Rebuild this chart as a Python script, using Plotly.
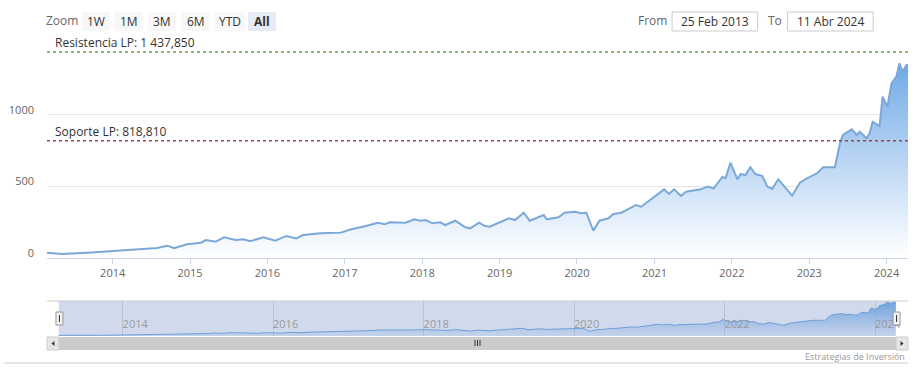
import plotly.graph_objects as go

# ---------------- data ----------------
dates = [
    "2013-02-25", "2013-05-07", "2013-09-05", "2013-12-27", "2014-04-15", "2014-07-30",
    "2014-09-15", "2014-10-18", "2014-12-18", "2015-02-22", "2015-03-17", "2015-05-02",
    "2015-06-10", "2015-08-05", "2015-09-10", "2015-10-12", "2015-12-13", "2016-02-08",
    "2016-03-30", "2016-05-16", "2016-06-18", "2016-09-06", "2016-12-13", "2017-01-30",
    "2017-03-27", "2017-06-06", "2017-07-08", "2017-07-31", "2017-10-14", "2017-11-25",
    "2017-12-23", "2018-01-16", "2018-02-18", "2018-03-27", "2018-04-19", "2018-06-06",
    "2018-07-23", "2018-08-15", "2018-09-26", "2018-10-24", "2018-11-15", "2018-12-20",
    "2019-02-14", "2019-03-14", "2019-04-25", "2019-05-23", "2019-07-04", "2019-07-28",
    "2019-08-11", "2019-10-06", "2019-11-03", "2019-12-20", "2020-01-22", "2020-02-14",
    "2020-03-18", "2020-04-16", "2020-05-28", "2020-06-21", "2020-07-28", "2020-09-04",
    "2020-10-06", "2020-10-30", "2020-12-30", "2021-02-15", "2021-03-10", "2021-04-03",
    "2021-05-06", "2021-05-29", "2021-08-07", "2021-09-09", "2021-10-07", "2021-11-18",
    "2021-12-02", "2021-12-25", "2022-01-27", "2022-02-11", "2022-03-06", "2022-03-29",
    "2022-04-22", "2022-05-25", "2022-06-17", "2022-07-10", "2022-08-08", "2022-09-19",
    "2022-10-12", "2022-11-18", "2022-12-21", "2023-02-07", "2023-03-07", "2023-05-02",
    "2023-05-26", "2023-06-09", "2023-07-21", "2023-08-13", "2023-08-27", "2023-09-29",
    "2023-10-13", "2023-10-27", "2023-11-29", "2023-12-13", "2024-01-05", "2024-01-24",
    "2024-02-16", "2024-03-02", "2024-03-16", "2024-04-04", "2024-04-11",
]
values = [
    37, 28, 37, 49, 61, 70,
    86, 68, 96, 107, 126, 114,
    144, 126, 130, 117, 144, 121,
    154, 137, 160, 172, 177, 200,
    218, 246, 235, 249, 246, 270,
    260, 265, 242, 249, 230, 260,
    214, 207, 246, 223, 218, 242,
    277, 265, 316, 260, 288, 300,
    270, 284, 316, 323, 312, 316,
    191, 260, 277, 307, 316, 347,
    370, 358, 428, 479, 447, 479,
    433, 463, 479, 498, 486, 567,
    556, 665, 549, 586, 579, 633,
    586, 572, 498, 482, 549, 475,
    435, 526, 556, 591, 633, 633,
    800, 858, 898, 858, 881, 835,
    870, 951, 921, 1126, 1056, 1219,
    1265, 1359, 1300, 1347, 1345,
]

resistance_value = 1437.850
resistance_label = "Resistencia LP: 1 437,850"
support_value = 818.810
support_label = "Soporte LP: 818,810"

y_tick_values = [0, 500, 1000, 1500]
y_tick_labels = ["0", "500", "1000", ""]

zoom_buttons = ["1W", "1M", "3M", "6M", "YTD", "All"]
selected_button = "All"
from_date_text = "25 Feb 2013"
to_date_text = "11 Abr 2024"
range_start = "2013-02-25"
range_end = "2024-04-11"
nav_range = ["2012-12-30", "2024-06-09"]
credit_text = "Estrategias de Inversión"

# ---------------- geometry helpers (pixels -> paper) ----------------
W, H = 917, 373
L, R, T, B = 43, 908, 43, 336


def px(x):
    return (x - L) / (R - L)


def py(y):
    return (B - y) / (B - T)


FONT = "Open Sans"

fig = go.Figure()

# main series
fig.add_trace(go.Scatter(
    x=dates, y=values, mode="lines",
    line=dict(color="#7aa8d8", width=2),
    fill="tozeroy",
    fillgradient=dict(type="vertical",
                      colorscale=[[0, "rgba(255,255,255,0.9)"], [1, "rgba(110,168,230,1)"]]),
    xaxis="x", yaxis="y", showlegend=False, hoverinfo="x+y",
))

# navigator series
fig.add_trace(go.Scatter(
    x=dates, y=values, mode="lines",
    line=dict(color="#6f9fd6", width=1),
    fill="tozeroy",
    fillgradient=dict(type="vertical",
                      colorscale=[[0, "rgba(124,170,225,0.15)"], [1, "rgba(100,155,220,0.9)"]]),
    xaxis="x2", yaxis="y2", showlegend=False, hoverinfo="skip",
))

shapes = []
annotations = []

# plot lines
shapes.append(dict(type="line", xref="paper", yref="y", x0=0, x1=1,
                   y0=resistance_value, y1=resistance_value,
                   line=dict(color="#6a9f5a", width=1.5, dash="dot")))
shapes.append(dict(type="line", xref="paper", yref="y", x0=0, x1=1,
                   y0=support_value, y1=support_value,
                   line=dict(color="#9b4646", width=1.5, dash="dot")))
annotations.append(dict(text=resistance_label, xref="paper", yref="y", x=px(49),
                        y=resistance_value, xanchor="left", yanchor="bottom", yshift=-1,
                        showarrow=False, font=dict(family=FONT, size=12, color="#333333")))
annotations.append(dict(text=support_label, xref="paper", yref="y", x=px(49),
                        y=support_value, xanchor="left", yanchor="bottom", yshift=-1,
                        showarrow=False, font=dict(family=FONT, size=12, color="#333333")))

# range selector (drawn)
annotations.append(dict(text="Zoom", xref="paper", yref="paper", x=px(58), y=py(21),
                        xanchor="center", yanchor="middle", showarrow=False,
                        font=dict(family=FONT, size=12, color="#666666")))
for i, lab in enumerate(zoom_buttons):
    x0 = 78 + i * 33.4
    w = 30 if lab == "YTD" else 28
    sel = lab == selected_button
    shapes.append(dict(type="rect", xref="paper", yref="paper",
                       x0=px(x0), x1=px(x0 + w), y0=py(31), y1=py(12),
                       fillcolor="#e6ebf5" if sel else "#f7f7f7", line=dict(width=0)))
    annotations.append(dict(text=f"<b>{lab}</b>" if sel else lab, xref="paper", yref="paper",
                            x=px(x0 + w / 2), y=py(21.5), xanchor="center", yanchor="middle",
                            showarrow=False,
                            font=dict(family=FONT, size=12, color="#333333")))

# date inputs
annotations.append(dict(text="From", xref="paper", yref="paper", x=px(651), y=py(21),
                        xanchor="center", yanchor="middle", showarrow=False,
                        font=dict(family=FONT, size=12, color="#666666")))
annotations.append(dict(text="To", xref="paper", yref="paper", x=px(774), y=py(21),
                        xanchor="center", yanchor="middle", showarrow=False,
                        font=dict(family=FONT, size=12, color="#666666")))
for (a, b, txt) in [(671, 757, from_date_text), (787, 873, to_date_text)]:
    shapes.append(dict(type="rect", xref="paper", yref="paper",
                       x0=px(a), x1=px(b), y0=py(31), y1=py(12),
                       fillcolor="white", line=dict(color="#cccccc", width=1)))
    annotations.append(dict(text=txt, xref="paper", yref="paper", x=px((a + b) / 2), y=py(21.5),
                            xanchor="center", yanchor="middle", showarrow=False,
                            font=dict(family=FONT, size=12, color="#333333")))

# navigator mask and outline
shapes.append(dict(type="rect", xref="x2", yref="paper", x0=range_start, x1=range_end,
                   y0=0, y1=py(301), fillcolor="rgba(102,133,194,0.3)",
                   line=dict(width=0), layer="below"))
shapes.append(dict(type="line", xref="paper", yref="paper", x0=0, x1=1, y0=py(301), y1=py(301),
                   line=dict(color="#cccccc", width=1)))

# navigator handles
for (a, b, t0, t1) in [(52, 59, 312, 325), (893, 900, 312, 325)]:
    shapes.append(dict(type="rect", xref="paper", yref="paper", x0=px(a), x1=px(b),
                       y0=py(t1), y1=py(t0), fillcolor="#f2f2f2",
                       line=dict(color="#999999", width=1)))
    shapes.append(dict(type="line", xref="paper", yref="paper", x0=px((a + b) / 2),
                       x1=px((a + b) / 2), y0=py(t1 - 3), y1=py(t0 + 3),
                       line=dict(color="#333333", width=1)))

# scrollbar
shapes.append(dict(type="rect", xref="paper", yref="paper", x0=px(43), x1=px(908),
                   y0=py(350), y1=py(337), fillcolor="#f2f2f2", line=dict(width=0)))
shapes.append(dict(type="rect", xref="paper", yref="paper", x0=px(55), x1=px(896),
                   y0=py(350), y1=py(337), fillcolor="#cccccc", line=dict(width=0)))
for (a, b) in [(43, 55), (896, 908)]:
    shapes.append(dict(type="rect", xref="paper", yref="paper", x0=px(a), x1=px(b),
                       y0=py(350), y1=py(337), fillcolor="#e6e6e6",
                       line=dict(color="#cccccc", width=1)))
# arrows
shapes.append(dict(type="path", xref="paper", yref="paper",
                   path=f"M {px(47.5)} {py(343.5)} L {px(50.5)} {py(341)} L {px(50.5)} {py(346)} Z",
                   fillcolor="#333333", line=dict(width=0)))
shapes.append(dict(type="path", xref="paper", yref="paper",
                   path=f"M {px(903.5)} {py(343.5)} L {px(900.5)} {py(341)} L {px(900.5)} {py(346)} Z",
                   fillcolor="#333333", line=dict(width=0)))
for gx in (473, 475.5, 478):
    shapes.append(dict(type="line", xref="paper", yref="paper", x0=px(gx), x1=px(gx),
                       y0=py(346), y1=py(340), line=dict(color="#333333", width=1)))

# bottom container line
shapes.append(dict(type="line", xref="paper", yref="paper", x0=px(0), x1=px(908),
                   y0=py(363), y1=py(363), line=dict(color="#cccccc", width=1)))

# credits
annotations.append(dict(text=credit_text, xref="paper", yref="paper", x=px(907), y=py(356),
                        xanchor="right", yanchor="middle", showarrow=False,
                        font=dict(family=FONT, size=9, color="#999999")))

fig.update_layout(
    width=W, height=H,
    margin=dict(l=L, r=W - R, t=T, b=H - B),
    paper_bgcolor="white", plot_bgcolor="rgba(0,0,0,0)",
    font=dict(family=FONT, size=11, color="#666666"),
    showlegend=False,
    xaxis=dict(domain=[0, 1], anchor="y", type="date", range=[range_start, range_end],
               showgrid=False, showline=True, linecolor="#ccd6eb", linewidth=1,
               ticks="outside", ticklen=5, tickcolor="#ccd6eb",
               dtick="M12", tick0="2014-01-01", tickformat="%Y",
               tickfont=dict(family=FONT, size=11, color="#666666"), zeroline=False),
    yaxis=dict(domain=[py(258), 1], anchor="x", range=[0, 1500],
               tickvals=y_tick_values, ticktext=y_tick_labels,
               showgrid=True, gridcolor="#e6e6e6", zeroline=False, showline=False,
               ticklabelstandoff=12, ticklabelshift=-5,
               tickfont=dict(family=FONT, size=11, color="#666666")),
    xaxis2=dict(domain=[0, 1], anchor="y2", type="date", range=nav_range,
                showgrid=True, gridcolor="rgba(140,150,175,0.35)",
                dtick="M24", tick0="2014-01-01", tickformat="%Y",
                ticklabelposition="inside right", ticks="",
                tickfont=dict(family=FONT, size=11, color="#999999"),
                showline=False, zeroline=False),
    yaxis2=dict(domain=[0, py(301)], anchor="x2", range=[10, 1400],
                showgrid=False, showticklabels=False, zeroline=False, showline=False),
    shapes=shapes, annotations=annotations,
)

fig.write_html("out.html", config={"displayModeBar": False},
               post_script="document.body.style.margin='0';document.body.style.padding='0';")
